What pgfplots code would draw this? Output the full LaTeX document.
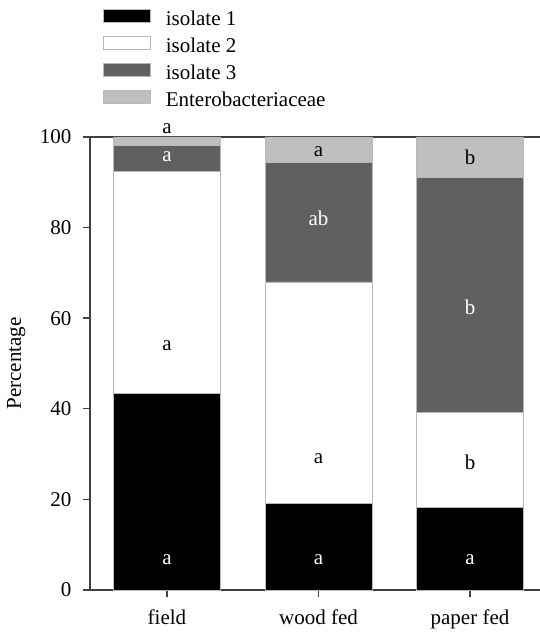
\documentclass[border=0pt]{standalone}
\usepackage{pgfplots}
\pgfplotsset{compat=1.18}
\usepackage{fontspec}
\setmainfont{Liberation Serif}
\definecolor{dkg}{HTML}{606060}
\definecolor{ltg}{HTML}{BFBFBF}
\definecolor{edg}{HTML}{B8B8B8}
\definecolor{axc}{HTML}{404040}
\newcommand{\myfs}{\fontsize{21}{24}\selectfont}
\tikzset{lw/.style={font=\myfs, anchor=base, inner sep=0pt, text=white},
         lb/.style={font=\myfs, anchor=base, inner sep=0pt, text=black}}
\pgfplotsset{
  boxlegend/.style={legend image code/.code={\draw[##1] (0pt,-1.8pt) rectangle (47pt,11.2pt);}},
  letters/.style={after end axis/.code={
    \node[lw] at (axis cs:0,5.7) {a};
    \node[lb] at (axis cs:0,52.8) {a};
    \node[lw] at (axis cs:0,94.5) {a};
    \node[lb] at (axis cs:0,100.7) {a};
    \node[lw] at (axis cs:1,5.7) {a};
    \node[lb] at (axis cs:1,28.0) {a};
    \node[lw] at (axis cs:1,80.4) {ab};
    \node[lb] at (axis cs:1,95.8) {a};
    \node[lw] at (axis cs:2,5.7) {a};
    \node[lb] at (axis cs:2,26.7) {b};
    \node[lw] at (axis cs:2,60.9) {b};
    \node[lb] at (axis cs:2,94.0) {b};
  }},
}
\begin{document}
\begin{tikzpicture}
\useasboundingbox (0,0) rectangle (540pt,634pt);
\begin{axis}[
  at={(90pt,44pt)}, anchor=south west,
  scale only axis, width=450pt, height=453pt,
  ybar stacked, bar width=0.706,
  xmin=-0.508, xmax=2.462, ymin=0, ymax=100,
  xtick={0,1,2}, xticklabels={field,wood fed,paper fed},
  ytick={0,20,40,60,80,100},
  separate axis lines,
  axis x line=box, axis y line=left,
  xtick pos=bottom, ytick pos=left,
  axis line style={draw=axc, line width=1.4pt, -},
  tick style={draw=axc, line width=1.4pt},
  tick align=outside, major tick length=7pt,
  /pgf/number format/assume math mode=true,
  ticklabel style={font=\myfs},
  yticklabel style={xshift=-8pt},
  xticklabel style={yshift=-9pt},
  ylabel={Percentage}, ylabel style={font=\myfs, at={(axis description cs:-0.164,0.5)}, anchor=center},
  clip=false,
  legend cell align=left,
  legend style={at={(axis description cs:0.0289,1.2826)}, anchor=north west,
    draw=none, fill=none, inner sep=0pt, outer sep=0pt, row sep=7pt, column sep=15pt,
    font=\myfs, nodes={text height=13pt, text depth=4pt, inner sep=0pt}},
  boxlegend, letters,
]
\addplot[fill=black, draw=edg, line width=0.8pt] coordinates {(0,43.3) (1,19.1) (2,18.3)};
\addplot[fill=white, draw=edg, line width=0.8pt] coordinates {(0,49.0) (1,48.9) (2,20.8)};
\addplot[fill=dkg, draw=edg, line width=0.8pt] coordinates {(0,5.8) (1,26.4) (2,51.9)};
\addplot[fill=ltg, draw=edg, line width=0.8pt] coordinates {(0,1.9) (1,5.6) (2,9.0)};
\legend{isolate 1, isolate 2, isolate 3, Enterobacteriaceae}
\end{axis}
\end{tikzpicture}
\end{document}
